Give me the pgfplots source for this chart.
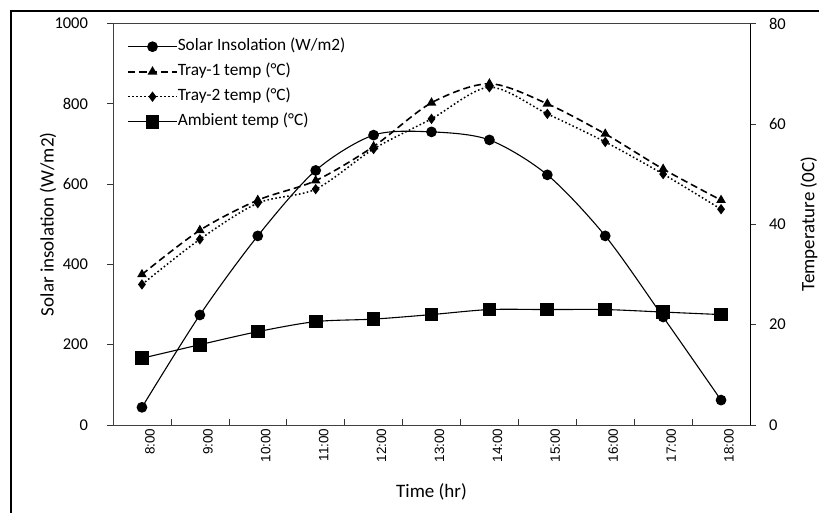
\documentclass[border=0pt]{standalone}
\usepackage{pgfplots}
\pgfplotsset{compat=1.18}
\usepackage{fontspec}
\setmainfont{Carlito}
\newfontfamily\arialfont{Liberation Sans}
\newcommand\xf{\arialfont\fontsize{13.5}{16}\selectfont}

\pgfplotstableread{
x solar tray1 tray2 amb
0 44 30 28 13.3
1 274 38.8 37 16
2 471 44.8 44.2 18.6
3 634 48.7 47 20.6
4 722 55.5 55 21.1
5 730 64.2 61 22
6 710 68 67.3 23
7 623 64 62 23
8 471 58 56.4 23
9 269 51 50 22.5
10 62 44.8 43 22
}\datatable

\pgfplotsset{
  common/.style={
    scale only axis, width=637pt, height=401.5pt,
    at={(113pt,88pt)}, anchor=south west,
    xmin=-0.5, xmax=10.5,
    /pgf/number format/assume math mode=true,
    /pgf/number format/1000 sep={},
    yticklabel style={font=\fontsize{16.5}{19}\selectfont},
    tick style={black!80, line width=0.6pt},
    major tick length=6pt,
  },
  legend image code/.code={
    \draw[mark repeat=2,mark phase=2,#1] plot coordinates {(0pt,0pt) (24.5pt,0pt) (49pt,0pt)};
  },
}

\begin{document}
\begin{tikzpicture}
\useasboundingbox (0,0) rectangle (819pt,513pt);
\draw[line width=1.4pt] (11pt,-20pt) -- (11pt,502pt) -- (840pt,502pt);

\begin{axis}[common,
  ymin=0, ymax=1000, ytick={0,200,...,1000},
  ytick pos=left, ytick align=outside,
  axis line style={black!75, line width=0.6pt},
  xtick={0.5,1.5,...,9.5}, xticklabels={},
  xtick align=inside, xtick pos=bottom,
  extra x ticks={0,1,...,10},
  extra x tick labels={{\xf 8:00},{\xf 9:00},{\xf 10:00},{\xf 11:00},{\xf 12:00},{\xf 13:00},{\xf 14:00},{\xf 15:00},{\xf 16:00},{\xf 17:00},{\xf 18:00}},
  extra x tick style={major tick length=0pt},
  xticklabel style={rotate=90, anchor=east, yshift=-8pt},
  yticklabel style={anchor=east, xshift=-15.5pt},
  xlabel={Time (hr)}, ylabel={Solar insolation (W/m2)},
  every axis x label/.style={at={(axis description cs:0.5,0)}, yshift=-67pt, anchor=center, font=\fontsize{19}{22}\selectfont},
  every axis y label/.style={at={(axis description cs:0,0.5)}, xshift=-65pt, rotate=90, anchor=center, font=\fontsize{19}{22}\selectfont},
]
\addplot[black, line width=1.1pt, smooth, tension=0.5, mark=*, mark size=4.8pt, mark options={solid}] table[x=x, y=solar] {\datatable};
\end{axis}

\begin{axis}[common,
  ymin=0, ymax=80, ytick={0,20,...,80},
  axis y line*=right, axis x line=none,
  tick align=outside,
  axis line style={black, line width=0.8pt},
  yticklabel style={anchor=west, xshift=9.5pt},
  ylabel={Temperature (0C)},
  every axis y label/.style={at={(axis description cs:1,0.5)}, xshift=59pt, rotate=90, anchor=center, font=\fontsize{19}{22}\selectfont},
  legend style={at={(0,1)}, anchor=north west, xshift=14pt, yshift=-15pt, draw=none, fill=none, inner sep=0pt,
    font=\fontsize{17.3}{20}\selectfont, row sep=9pt,
    nodes={inner sep=0pt, text height=12pt, text depth=4pt},
    /tikz/every even column/.append style={column sep=5pt}},
  legend cell align=left,
]
\addlegendimage{black, line width=1.1pt, mark=*, mark size=4.8pt}
\addlegendentry{Solar Insolation (W/m2)}
\addplot[black, line width=1.6pt, dash pattern=on 7pt off 4pt, smooth, tension=0.5, mark=triangle*, mark size=4pt, mark options={solid}] table[x=x, y=tray1] {\datatable};
\addlegendentry{Tray-1 temp (°C)}
\addplot[black, line width=1.5pt, dash pattern=on 1.6pt off 2.4pt, smooth, tension=0.5, mark=diamond*, mark size=4pt, mark options={solid}] table[x=x, y=tray2] {\datatable};
\addlegendentry{Tray-2 temp (°C)}
\addplot[black, line width=1.1pt, smooth, tension=0.5, mark=square*, mark size=6.3pt, mark options={solid}] table[x=x, y=amb] {\datatable};
\addlegendentry{Ambient temp (°C)}
\end{axis}
\end{tikzpicture}
\end{document}
